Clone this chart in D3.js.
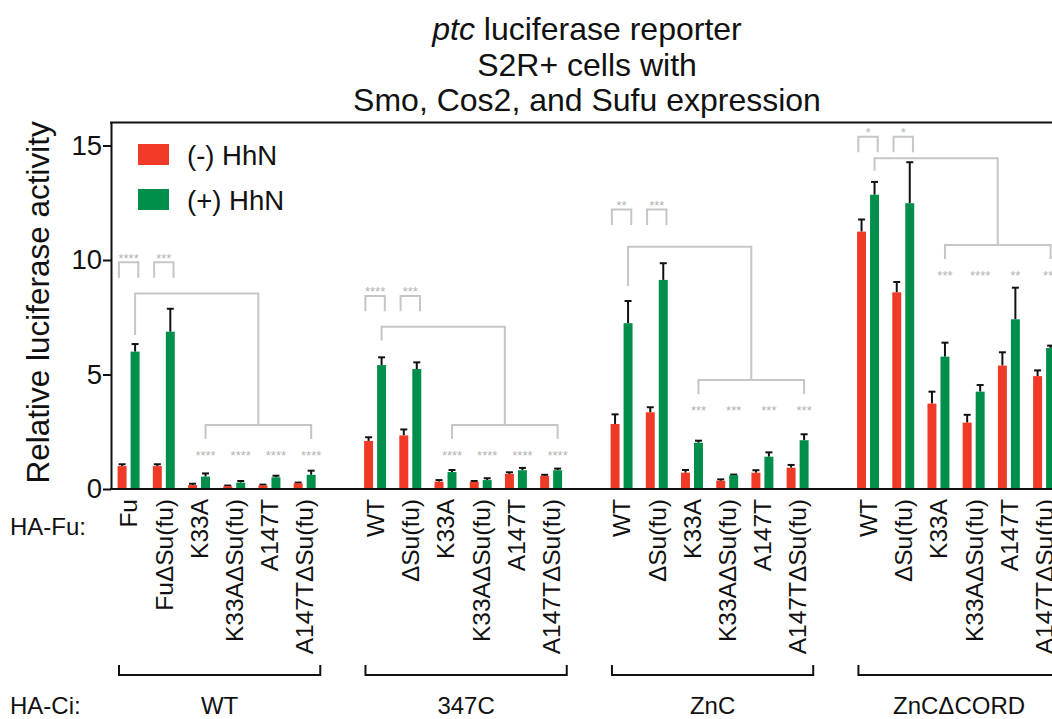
<!DOCTYPE html>
<html>
<head>
<meta charset="utf-8">
<script src="https://cdn.jsdelivr.net/npm/d3@7"></script>
<style>
  body { margin: 0; background: #fff; }
  svg { display: block; font-family: "Liberation Sans", Arial, sans-serif; }
</style>
</head>
<body>
<div id="chart"></div>
<script>
// ---- data ----
var groups = ["WT", "347C", "ZnC", "ZnC\u0394CORD"];
var fuLabels = [
  ["Fu", "Fu\u0394Su(fu)", "K33A", "K33A\u0394Su(fu)", "A147T", "A147T\u0394Su(fu)"],
  ["WT", "\u0394Su(fu)", "K33A", "K33A\u0394Su(fu)", "A147T", "A147T\u0394Su(fu)"],
  ["WT", "\u0394Su(fu)", "K33A", "K33A\u0394Su(fu)", "A147T", "A147T\u0394Su(fu)"],
  ["WT", "\u0394Su(fu)", "K33A", "K33A\u0394Su(fu)", "A147T", "A147T\u0394Su(fu)"]
];
var minusMean = [1.0, 1.0, 0.17, 0.12, 0.16, 0.25,
                 2.1, 2.34, 0.32, 0.31, 0.66, 0.57,
                 2.84, 3.35, 0.71, 0.36, 0.71, 0.93,
                 11.24, 8.59, 3.73, 2.9, 5.39, 4.93];
var minusErr  = [0.08, 0.08, 0.06, 0.03, 0.03, 0.03,
                 0.16, 0.26, 0.07, 0.04, 0.07, 0.05,
                 0.42, 0.22, 0.12, 0.06, 0.11, 0.12,
                 0.53, 0.45, 0.52, 0.34, 0.58, 0.25];
var plusMean  = [6.0, 6.87, 0.54, 0.28, 0.51, 0.62,
                 5.41, 5.24, 0.74, 0.39, 0.82, 0.82,
                 7.24, 9.13, 2.02, 0.6, 1.41, 2.13,
                 12.85, 12.48, 5.78, 4.25, 7.41, 6.16];
var plusErr   = [0.33, 1.0, 0.14, 0.07, 0.07, 0.18,
                 0.34, 0.29, 0.09, 0.08, 0.1, 0.07,
                 0.97, 0.73, 0.09, 0.03, 0.19, 0.26,
                 0.56, 1.79, 0.61, 0.29, 1.38, 0.1];
var yTicks = [0, 5, 10, 15];
var seriesNames = ["(-) HhN", "(+) HhN"];

// significance annotations (levels in data units)
var pairStars = [["****", "***"], ["****", "***"], ["**", "***"], ["*", "*"]];
var pairTop   = [9.9, 8.43, 12.2, 15.38];
var mainTop   = [8.54, 7.09, 10.58, 14.44];
var mainLegEnd = [6.72, 6.48, 8.86, 13.9];
var lowTop    = [2.8, 2.8, 4.76, 10.66];
var mutStars  = [["****", "****", "****", "****"],
                 ["****", "****", "****", "****"],
                 ["***", "***", "***", "***"],
                 ["***", "****", "**", "***"]];

var colors = {minus: "#ee3a26", plus: "#008f4a"};
var grey = "#c6c6c6";

// ---- layout ----
var width = 1052, height = 719;
var svg = d3.select("#chart").append("svg")
  .attr("width", width).attr("height", height);

var perGroup = 6, slotsPerGroup = 7;
var nSlots = groups.length * slotsPerGroup - 1;

var x = d3.scaleBand().domain(d3.range(nSlots)).range([111, 1061.7]);
var xSub = d3.scaleBand().domain(["minus", "plus"]).range([0, x.bandwidth()])
  .paddingInner(0.31).paddingOuter(0.51);
var y = d3.scaleLinear().domain([0, 16]).range([489, 122.6]);

function slot(g, i) { return g * slotsPerGroup + i; }
function cx(s) { return x(s) + x.bandwidth() / 2; }
function barCx(s, k) { return x(s) + xSub(k) + xSub.bandwidth() / 2; }

// flat bar table
var bars = [];
groups.forEach(function(gName, g){
  for (var i = 0; i < perGroup; ++i) {
    var idx = g * perGroup + i;
    bars.push({s: slot(g, i), k: "minus", v: minusMean[idx], e: minusErr[idx]});
    bars.push({s: slot(g, i), k: "plus", v: plusMean[idx], e: plusErr[idx]});
  }
});

// error bars (upper half only)
var eb = svg.append("g").attr("stroke", "#111").attr("stroke-width", 2);
eb.selectAll("line.v").data(bars).enter().append("line")
  .attr("x1", function(d){ return barCx(d.s, d.k); })
  .attr("x2", function(d){ return barCx(d.s, d.k); })
  .attr("y1", function(d){ return y(d.v); })
  .attr("y2", function(d){ return y(d.v + d.e); });
eb.selectAll("line.c").data(bars).enter().append("line")
  .attr("x1", function(d){ return barCx(d.s, d.k) - 3.5; })
  .attr("x2", function(d){ return barCx(d.s, d.k) + 3.5; })
  .attr("y1", function(d){ return y(d.v + d.e); })
  .attr("y2", function(d){ return y(d.v + d.e); });

svg.append("g").selectAll("rect").data(bars).enter().append("rect")
  .attr("x", function(d){ return x(d.s) + xSub(d.k); })
  .attr("width", xSub.bandwidth())
  .attr("y", function(d){ return y(d.v); })
  .attr("height", function(d){ return y(0) - y(d.v); })
  .attr("fill", function(d){ return colors[d.k]; });

// significance brackets
var ann = svg.append("g");
var line = d3.line();
groups.forEach(function(gName, g){
  // WT vs deltaSu pair brackets
  pairStars[g].forEach(function(st, i){
    var c = cx(slot(g, i));
    ann.append("path")
      .attr("d", line([[c - 9.7, y(pairTop[g] - 0.67)], [c - 9.7, y(pairTop[g])],
                       [c + 9.7, y(pairTop[g])], [c + 9.7, y(pairTop[g] - 0.67)]]))
      .attr("fill", "none").attr("stroke", grey).attr("stroke-width", 2);
    ann.append("text").attr("x", c).attr("y", y(pairTop[g] + 0.3)).attr("dy", "0.55em")
      .attr("text-anchor", "middle").attr("fill", "#b4b4b4").attr("font-size", 13)
      .text(st);
  });
  var g0 = barCx(slot(g, 0), "plus");
  var l0 = barCx(slot(g, 2), "plus");
  var l1 = barCx(slot(g, 5), "plus");
  var mid = (l0 + l1) / 2;
  ann.append("path")
    .attr("d", line([[g0, y(mainLegEnd[g])], [g0, y(mainTop[g])],
                     [mid, y(mainTop[g])], [mid, y(lowTop[g])]]))
    .attr("fill", "none").attr("stroke", grey).attr("stroke-width", 2);
  ann.append("path")
    .attr("d", line([[l0, y(lowTop[g] - 0.62)], [l0, y(lowTop[g])],
                     [l1, y(lowTop[g])], [l1, y(lowTop[g] - 0.62)]]))
    .attr("fill", "none").attr("stroke", grey).attr("stroke-width", 2);
  mutStars[g].forEach(function(st, j){
    ann.append("text").attr("x", barCx(slot(g, j + 2), "plus"))
      .attr("y", y(lowTop[g] - 1.2)).attr("dy", "0.55em")
      .attr("text-anchor", "middle").attr("fill", "#b4b4b4").attr("font-size", 13)
      .text(st);
  });
});

// axes and frame
var yAxis = svg.append("g").attr("transform", "translate(111,0)")
  .call(d3.axisLeft(y).tickValues(yTicks).tickSize(8).tickSizeOuter(0).tickPadding(1));
yAxis.selectAll("text").attr("font-size", 27.5).attr("fill", "#111")
  .attr("font-family", "Liberation Sans, Arial, sans-serif");
yAxis.selectAll("line,path").attr("stroke", "#111").attr("stroke-width", 2);

svg.append("line").attr("x1", 110).attr("x2", 1070)
  .attr("y1", y(0)).attr("y2", y(0)).attr("stroke", "#111").attr("stroke-width", 2);
svg.append("line").attr("x1", 110).attr("x2", 1070)
  .attr("y1", y(16)).attr("y2", y(16)).attr("stroke", "#111").attr("stroke-width", 2);

// y label
svg.append("text").attr("transform", "translate(49," + y(8.15) + ") rotate(-90)")
  .attr("text-anchor", "middle").attr("font-size", 31.5).attr("fill", "#111")
  .text("Relative luciferase activity");

// title
var title = svg.append("g").attr("text-anchor", "middle").attr("font-size", 32).attr("fill", "#111");
var t1 = title.append("text").attr("x", 587).attr("y", 40);
t1.append("tspan").attr("font-style", "italic").text("ptc");
t1.append("tspan").text(" luciferase reporter");
title.append("text").attr("x", 587).attr("y", 76).text("S2R+ cells with");
title.append("text").attr("x", 587).attr("y", 111).text("Smo, Cos2, and Sufu expression");

// legend
var leg = svg.append("g").selectAll("g").data(["minus", "plus"]).enter().append("g")
  .attr("transform", function(d, i){ return "translate(138," + (144 + i * 45) + ")"; });
leg.append("rect").attr("width", 31).attr("height", 21)
  .attr("fill", function(d){ return colors[d]; });
leg.append("text").attr("x", 49).attr("y", 21).attr("font-size", 27.5).attr("fill", "#111")
  .text(function(d, i){ return seriesNames[i]; });

// rotated HA-Fu labels
var labs = [];
groups.forEach(function(gName, g){
  fuLabels[g].forEach(function(l, i){ labs.push({s: slot(g, i), t: l}); });
});
svg.append("g").selectAll("text").data(labs).enter().append("text")
  .attr("transform", function(d){ return "translate(" + cx(d.s) + ",499) rotate(-90)"; })
  .attr("text-anchor", "end").attr("dy", "0.36em")
  .attr("font-size", 24.5).attr("fill", "#111")
  .text(function(d){ return d.t; });

svg.append("text").attr("x", 10).attr("y", 535).attr("font-size", 24).attr("fill", "#111").text("HA-Fu:");
svg.append("text").attr("x", 10).attr("y", 714).attr("font-size", 24).attr("fill", "#111").text("HA-Ci:");

// group brackets
var gb = svg.append("g");
groups.forEach(function(gName, g){
  var a = x(slot(g, 0)) + 8, b = x(slot(g, perGroup - 1)) + x.bandwidth() - 2;
  gb.append("path").attr("d", line([[a, 665], [a, 675], [b, 675], [b, 665]]))
    .attr("fill", "none").attr("stroke", "#111").attr("stroke-width", 2);
  gb.append("text").attr("x", (a + b) / 2).attr("y", 714).attr("text-anchor", "middle")
    .attr("font-size", 24).attr("fill", "#111").text(gName);
});
</script>
</body>
</html>
